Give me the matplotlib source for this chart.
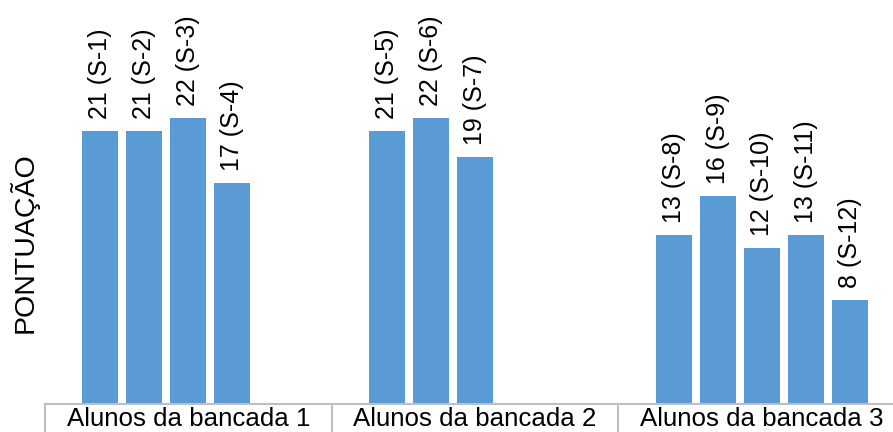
import numpy as np
import matplotlib.pyplot as plt

plt.rcParams['font.family'] = ['Liberation Sans', 'DejaVu Sans']

# dados
grupos = ["Alunos da bancada 1", "Alunos da bancada 2", "Alunos da bancada 3"]
pontos = [
    [21, 21, 22, 17],
    [21, 22, 19],
    [13, 16, 12, 13, 8],
]
rotulos = [
    ["S-1", "S-2", "S-3", "S-4"],
    ["S-5", "S-6", "S-7"],
    ["S-8", "S-9", "S-10", "S-11", "S-12"],
]

cor_barra = "#5B9BD5"
cor_eixo = "#BFBFBF"
passo = 0.1535
largura = 0.1256

fig = plt.figure(figsize=(8.93, 4.32), dpi=100)
ax = fig.add_axes([45 / 893, 28 / 432, 860 / 893, 390 / 432])

for g, (vals, nomes) in enumerate(zip(pontos, rotulos)):
    xs = g + (np.arange(len(vals)) - 2) * passo
    ax.bar(xs, vals, width=largura, color=cor_barra)
    for x, v, n in zip(xs, vals, nomes):
        ax.annotate(f"{v} ({n})", (x, v), xytext=(0, 8.5), textcoords="offset points",
                    rotation=90, ha="center", va="bottom", fontsize=18, annotation_clip=False)

ax.set_xlim(-0.5, 2.5)
ax.set_ylim(0, 30)
ax.set_yticks([])
for s in ["left", "top", "right"]:
    ax.spines[s].set_visible(False)
ax.spines["bottom"].set_color(cor_eixo)
ax.spines["bottom"].set_linewidth(1.5)

ax.set_xticks(range(len(grupos)))
ax.set_xticklabels(grupos, fontsize=18.6)
ax.tick_params(axis="x", which="major", length=0, pad=2)
ax.set_xticks([-0.5, 0.5, 1.5, 2.5], minor=True)
ax.tick_params(axis="x", which="minor", length=28, width=1.5, color=cor_eixo, direction="out")

fig.text(24 / 893, 1 - 243 / 432, "PONTUAÇÃO", rotation=90, ha="center", va="center", fontsize=20.5)

fig.savefig("out.png", dpi=100)
